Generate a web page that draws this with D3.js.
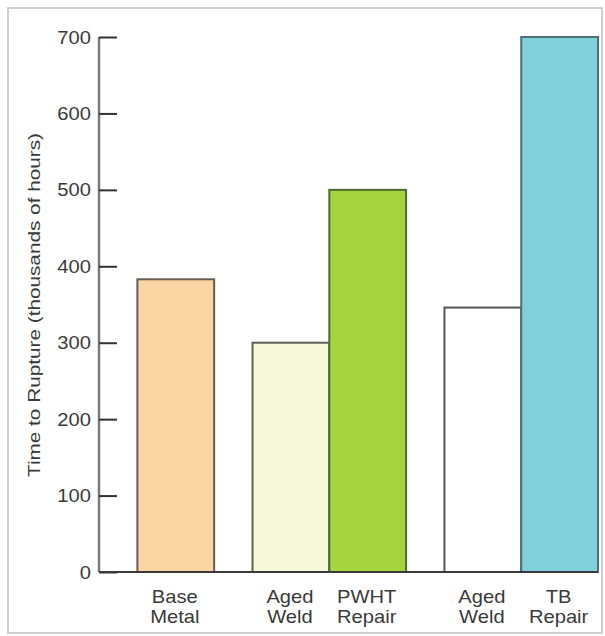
<!DOCTYPE html>
<html>
<head>
<meta charset="utf-8">
<script src="https://cdn.jsdelivr.net/npm/d3@7"></script>
<style>
  html, body { margin: 0; padding: 0; background: #fff; }
  svg { display: block; }
  text { font-family: "Liberation Sans", Arial, Helvetica, sans-serif; fill: #3a3a3a; }
</style>
</head>
<body>
<svg id="chart" width="605" height="636"></svg>
<script>
// ---- data ----
const categories = ["Base Metal", "Aged Weld", "PWHT Repair", "Aged Weld", "TB Repair"];
const labelLines = [["Base", "Metal"], ["Aged", "Weld"], ["PWHT", "Repair"], ["Aged", "Weld"], ["TB", "Repair"]];
const groups = [0, 1, 1, 2, 2];
const values = [383, 300, 500, 346, 700];
const yTicks = [0, 100, 200, 300, 400, 500, 600, 700];
const yTitle = "Time to Rupture (thousands of hours)";
const fills = ["#f9d5a3", "#f6f8da", "#a4d53c", "#ffffff", "#80d0dc"];
const strokes = ["#6a5d50", "#5f6058", "#4f6a2e", "#555555", "#4d6f78"];

const svg = d3.select("#chart");
const stretch = 1.12;

// frame
svg.append("rect").attr("x", 8).attr("y", 8).attr("width", 594).attr("height", 625)
  .attr("fill", "#fff").attr("stroke", "#cfcfcf").attr("stroke-width", 2);

// scales: x in bar-width units, groups separated by half a bar
const xLeft = (i) => i + 0.5 * (groups[i] + 1);
const slots = xLeft(values.length - 1) + 1;
const x = d3.scaleLinear().domain([0, slots]).range([99, 598]);
const y = d3.scaleLinear().domain([0, 700]).range([572, 37]);

// bars
svg.append("g").selectAll("rect").data(values).join("rect")
  .attr("x", (d, i) => x(xLeft(i)))
  .attr("width", (d, i) => x(xLeft(i) + 1) - x(xLeft(i)))
  .attr("y", d => y(d))
  .attr("height", d => y(0) - y(d))
  .attr("fill", (d, i) => fills[i])
  .attr("stroke", (d, i) => strokes[i])
  .attr("stroke-width", 2);

// y axis
const yAxis = d3.axisRight(y).tickValues(yTicks).tickSize(18).tickFormat("");
const gy = svg.append("g").attr("transform", "translate(99,0)").call(yAxis);
gy.select(".domain").attr("stroke", "#7a7a7a").attr("stroke-width", 2.5)
  .attr("d", `M0,${y(700)}V${y(0)}`);
gy.selectAll(".tick line").attr("stroke", "#333").attr("stroke-width", 2);

// tick labels (left of axis)
svg.append("g").selectAll("text").data(yTicks).join("text")
  .attr("transform", d => `translate(91,${y(d) + 6.5}) scale(${stretch},1)`)
  .attr("text-anchor", "end")
  .attr("font-size", 18)
  .text(d => d);

// baseline
svg.append("line").attr("x1", 99).attr("x2", x(slots)).attr("y1", y(0)).attr("y2", y(0))
  .attr("stroke", "#3a3a3a").attr("stroke-width", 2);

// category labels
const cl = svg.append("g").selectAll("text").data(labelLines).join("text")
  .attr("transform", (d, i) => `translate(${(x(xLeft(i)) + x(xLeft(i) + 1)) / 2 - 1},603) scale(${stretch},1)`)
  .attr("text-anchor", "middle")
  .attr("font-size", 18);
cl.selectAll("tspan").data(d => d).join("tspan")
  .attr("x", 0).attr("dy", (d, j) => j === 0 ? 0 : 20)
  .text(d => d);

// y title
svg.append("text")
  .attr("transform", "translate(40,305) rotate(-90)")
  .attr("text-anchor", "middle")
  .attr("font-size", 17)
  .attr("fill", "#555")
  .attr("textLength", 344).attr("lengthAdjust", "spacingAndGlyphs")
  .text(yTitle);
</script>
</body>
</html>
